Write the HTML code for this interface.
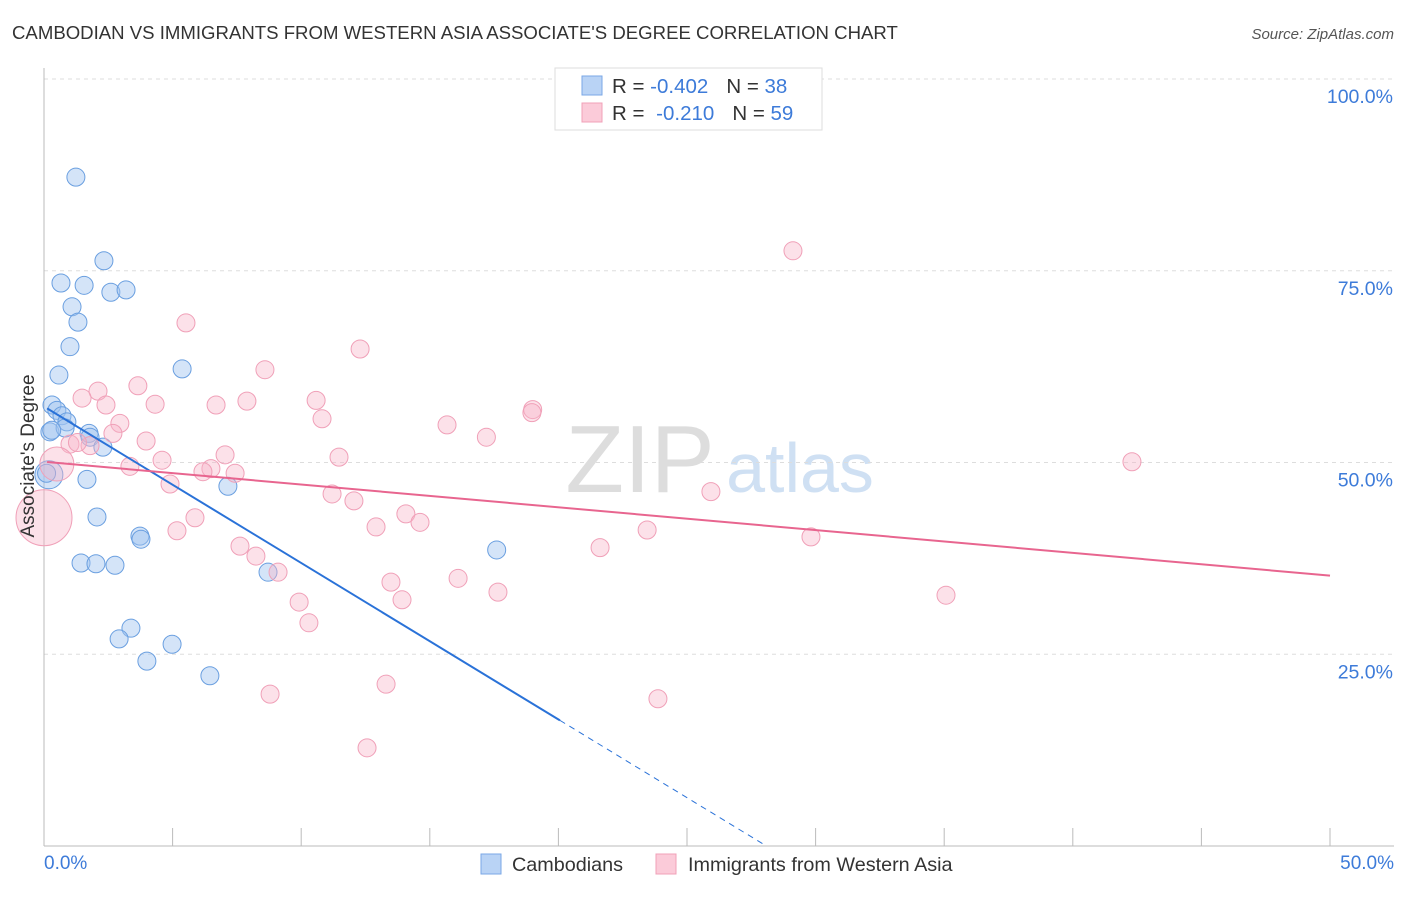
<!DOCTYPE html>
<html><head><meta charset="utf-8"><style>
body{margin:0;background:#fff;font-family:"Liberation Sans",sans-serif;}
svg text{font-family:"Liberation Sans",sans-serif;}
</style></head><body>
<svg width="1406" height="892" xmlns="http://www.w3.org/2000/svg">
<text x="12" y="39" font-size="18.6" fill="#333">CAMBODIAN VS IMMIGRANTS FROM WESTERN ASIA ASSOCIATE'S DEGREE CORRELATION CHART</text>
<text x="1394" y="39" font-size="15" fill="#555" text-anchor="end" font-style="italic">Source: ZipAtlas.com</text>
<text x="640" y="492" font-size="96" fill="#ddd" font-family="Liberation Serif" text-anchor="middle">ZIP</text>
<text x="800" y="492" font-size="70" fill="#cfe0f3" text-anchor="middle">atlas</text>
<g id="grid"></g>
<g id="marks"></g>
<text transform="translate(34,456) rotate(-90)" font-size="19" fill="#333" text-anchor="middle">Associate's Degree</text>
<text x="44" y="869" font-size="19" fill="#3d7bd9">0.0%</text>
<text x="1394" y="869" font-size="19" fill="#3d7bd9" text-anchor="end">50.0%</text>
<g>
<rect x="555" y="68" width="267" height="62" fill="#fff" stroke="#ddd"/>
<rect x="582" y="76" width="20" height="19" fill="#b9d3f5" stroke="#7aa7e6"/>
<rect x="582" y="103" width="20" height="19" fill="#fbcbd9" stroke="#f0a0b8"/>
<text x="612" y="93" font-size="20.5" fill="#333">R = <tspan fill="#3d7bd9">-0.402</tspan><tspan dx="18">N = </tspan><tspan fill="#3d7bd9">38</tspan></text>
<text x="612" y="120" font-size="20.5" fill="#333">R = <tspan fill="#3d7bd9" dx="6">-0.210</tspan><tspan dx="18">N = </tspan><tspan fill="#3d7bd9">59</tspan></text>
</g>
<g>
<rect x="481" y="854" width="20" height="20" fill="#b9d3f5" stroke="#7aa7e6"/>
<text x="512" y="871" font-size="19.8" fill="#333">Cambodians</text>
<rect x="656" y="854" width="20" height="20" fill="#fbcbd9" stroke="#f0a0b8"/>
<text x="688" y="871" font-size="19.8" fill="#333">Immigrants from Western Asia</text>
</g>
</svg>
<script>
const yTicks=[25,50,75,100];
const yTickLabels=["25.0%","50.0%","75.0%","100.0%"];
const xTicks=[0,5,10,15,20,25,30,35,40,45,50];
const blueX=[1.24,2.33,0.66,1.56,2.6,3.19,1.09,1.32,1.01,5.37,0.58,0.31,0.5,0.7,0.89,0.23,0.82,1.75,1.79,2.29,0.19,1.67,7.15,2.06,3.73,3.77,17.6,1.44,2.02,2.76,8.71,3.38,2.92,4.98,4.0,6.45,0.1,0.3];
const blueY=[87.2,76.3,73.4,73.1,72.2,72.5,70.3,68.3,65.1,62.2,61.4,57.5,56.8,56.1,55.3,54.0,54.5,53.8,53.3,52.0,48.4,47.8,46.9,42.9,40.4,40.0,38.6,36.9,36.8,36.6,35.7,28.4,27.0,26.3,24.1,22.2,48.6,54.2];
const blueR=[9,9,9,9,9,9,9,9,9,9,9,9,9,9,9,9,9,9,9,9,14,9,9,9,9,9,9,9,9,9,9,9,9,9,9,9,9,9];
const pinkX=[29.12,5.52,12.29,8.59,3.65,2.1,1.48,7.89,10.58,4.32,2.41,6.69,19.0,18.97,10.81,2.95,15.67,2.68,17.2,3.97,1.01,1.79,7.04,11.47,4.59,3.34,0.5,42.3,6.49,6.18,7.43,4.9,25.93,11.2,12.05,14.07,14.62,5.87,12.91,5.17,23.45,29.82,7.62,21.62,8.24,9.1,16.1,13.49,17.65,35.07,13.92,9.92,10.3,13.3,8.79,23.87,12.56,0.0,1.3];
const pinkY=[77.6,68.2,64.8,62.1,60.0,59.3,58.4,58.0,58.1,57.6,57.5,57.5,56.9,56.5,55.7,55.1,54.9,53.8,53.3,52.8,52.4,52.2,51.0,50.7,50.3,49.5,49.8,50.1,49.2,48.8,48.6,47.2,46.2,45.9,45.0,43.3,42.2,42.8,41.6,41.1,41.2,40.3,39.1,38.9,37.8,35.7,34.9,34.4,33.1,32.7,32.1,31.8,29.1,21.1,19.8,19.2,12.8,42.8,52.6];
const pinkR=[9,9,9,9,9,9,9,9,9,9,9,9,9,9,9,9,9,9,9,9,9,9,9,9,9,9,17,9,9,9,9,9,9,9,9,9,9,9,9,9,9,9,9,9,9,9,9,9,9,9,9,9,9,9,9,9,9,28,9];
const blueFit=[57.3,-2.04];
const pinkFit=[50.1,-0.297];
const NS="http://www.w3.org/2000/svg";
const X=v=>44+v*25.72, Y=v=>846-v*7.67;
function mk(t,a,p){const e=document.createElementNS(NS,t);for(const k in a)e.setAttribute(k,a[k]);p.appendChild(e);return e;}
const grid=document.getElementById('grid'),marks=document.getElementById('marks');
yTicks.forEach((t,i)=>{
 const l=mk('line',{x1:44,x2:1394,y1:Y(t),y2:Y(t),stroke:'#ddd','stroke-dasharray':'4,4'},grid);
 
 
 const tx=mk('text',{x:1393,y:Y(t)+24,'font-size':19.5,fill:'#3d7bd9','text-anchor':'end'},grid);tx.textContent=yTickLabels[i];
 
 
});
const xa=mk('line',{x1:44,x2:1394,y1:846,y2:846,stroke:'#bbb'},grid);


const ya=mk('line',{x1:44,x2:44,y1:68,y2:846,stroke:'#bbb'},grid);


xTicks.forEach(t=>{const l=mk('line',{x1:X(t),x2:X(t),y1:828,y2:846,stroke:'#bbb'},grid);
 
 });
blueX.forEach((x,i)=>{const c=mk('circle',{cx:X(x),cy:Y(blueY[i]),r:blueR[i],fill:'rgba(160,196,240,0.45)',stroke:'#6a9fe0','stroke-width':1},marks);
 
 });
pinkX.forEach((x,i)=>{const c=mk('circle',{cx:X(x),cy:Y(pinkY[i]),r:pinkR[i],fill:'rgba(248,180,200,0.4)',stroke:'#f0a0b8','stroke-width':1},marks);
 
 });
const bf=x=>blueFit[0]+blueFit[1]*x, pf=x=>pinkFit[0]+pinkFit[1]*x;
const b1=mk('line',{x1:X(0.12),y1:Y(bf(0.12)),x2:X(20.06),y2:Y(bf(20.06)),stroke:'#2a72d8','stroke-width':2},marks);


const xz=-blueFit[0]/blueFit[1];
const b2=mk('line',{x1:X(20.06),y1:Y(bf(20.06)),x2:X(xz),y2:Y(0),stroke:'#2a72d8','stroke-width':1,'stroke-dasharray':'6,5'},marks);


const p1=mk('line',{x1:X(0.12),y1:Y(pf(0.12)),x2:X(50),y2:Y(pf(50)),stroke:'#e8658f','stroke-width':2},marks);


</script>
</body></html>
